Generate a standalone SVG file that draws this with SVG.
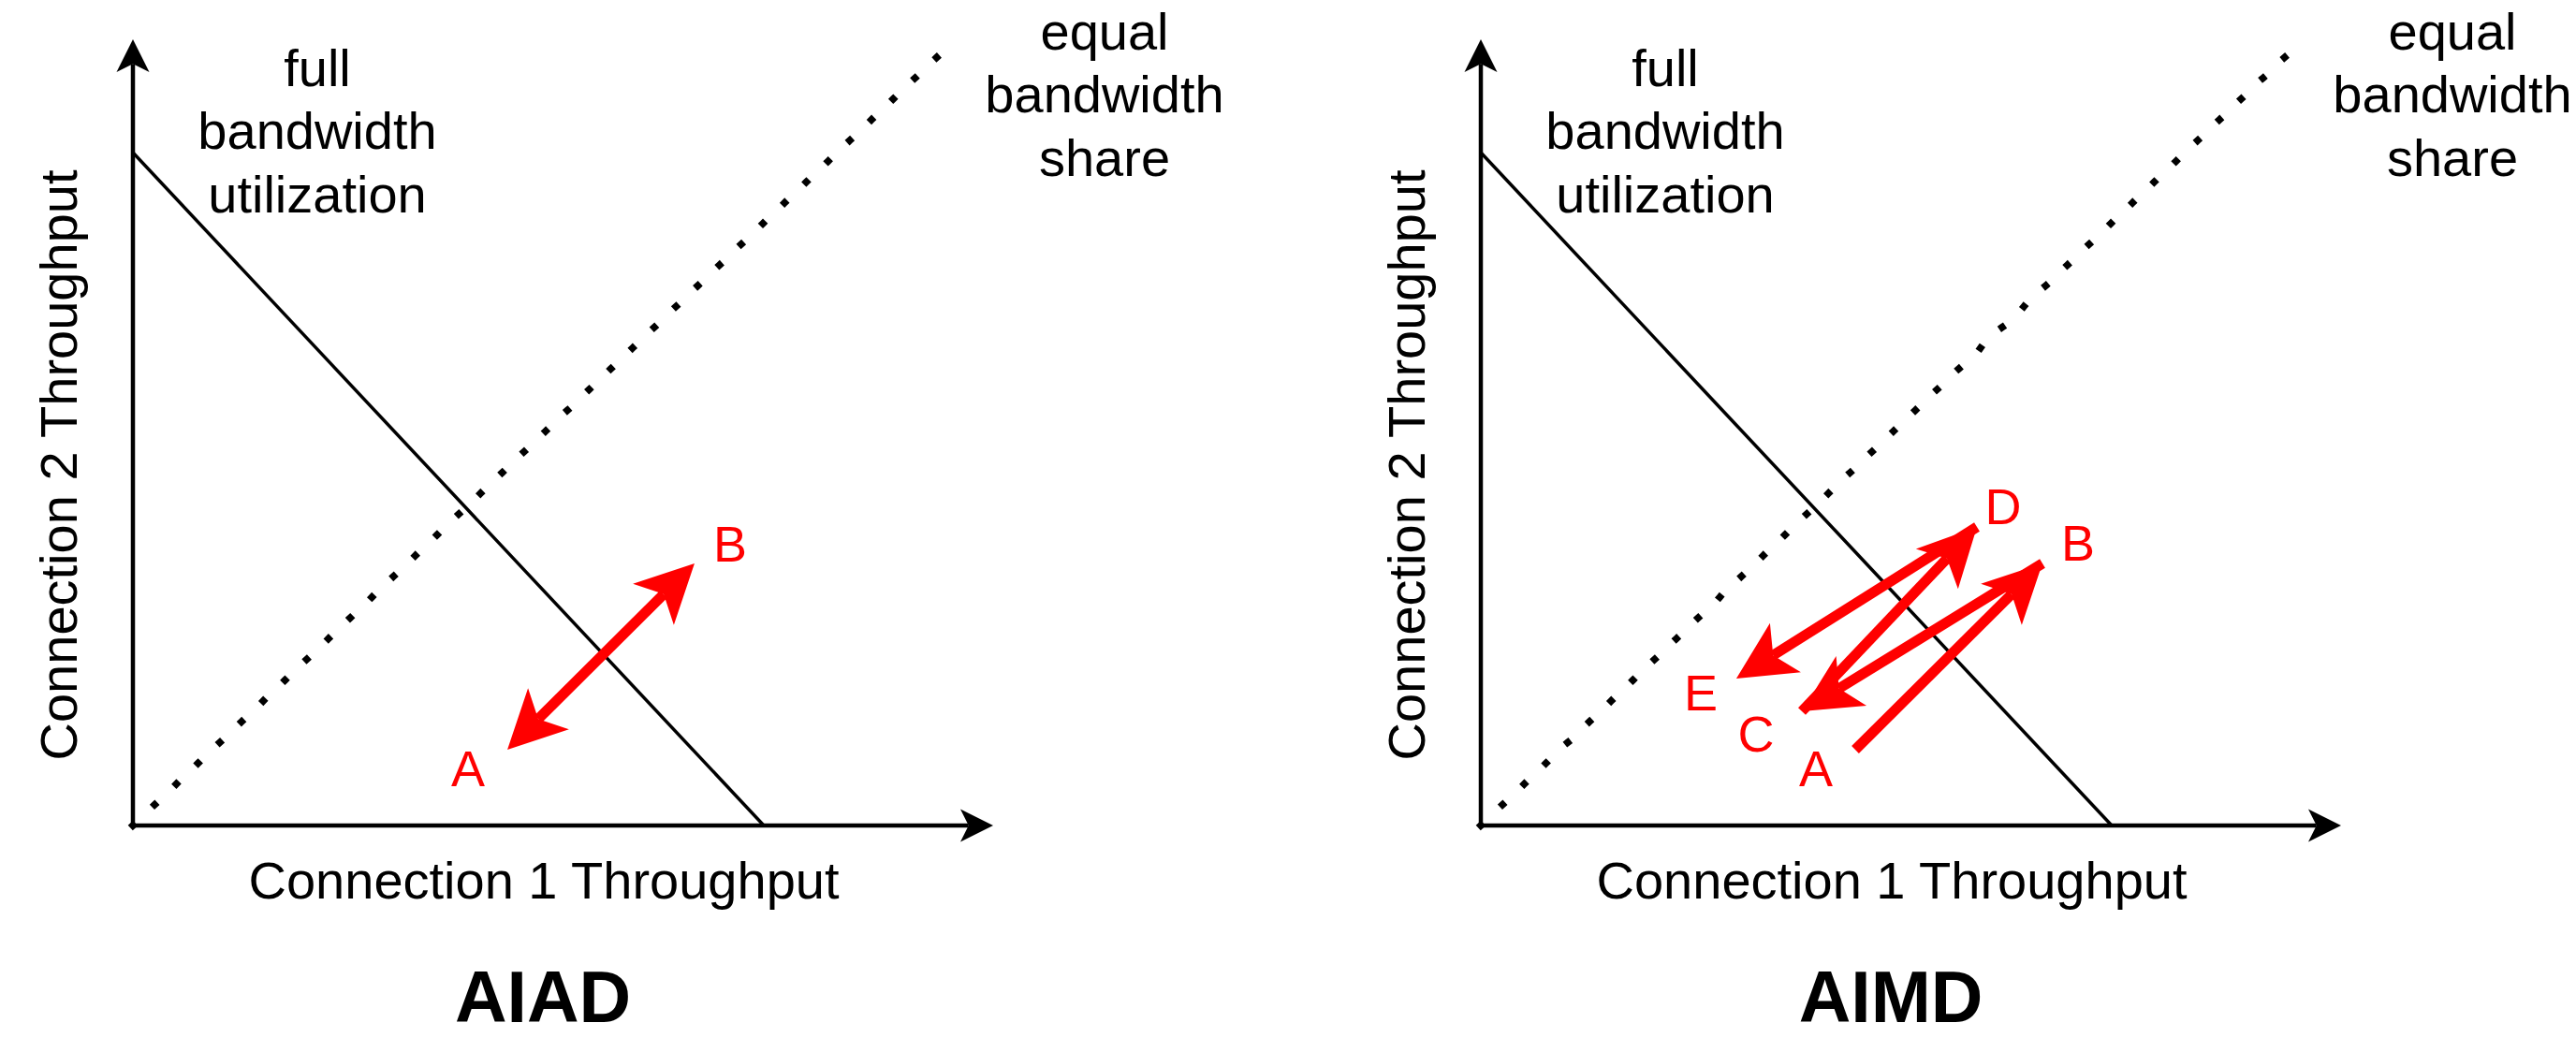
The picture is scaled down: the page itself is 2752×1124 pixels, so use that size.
<svg xmlns="http://www.w3.org/2000/svg" width="2752" height="1124" viewBox="0 0 2752 1124">
<style>
  text { font-family: "Liberation Sans", Arial, sans-serif; }
  .lbl { font-size: 56px; fill: #000; text-anchor: middle; }
  .pt { font-size: 54px; fill: #FF0000; text-anchor: middle; }
  .title { font-size: 77px; font-weight: bold; fill: #000; text-anchor: middle; }
  .axis { stroke: #000; stroke-width: 4.5; fill: none; marker-end: url(#axhead); }
  .full { stroke: #000; stroke-width: 3.5; fill: none; }
  .equal { stroke: #000; stroke-width: 7.5; fill: none; stroke-linecap: square; stroke-dasharray: 0.001 32.1; }
  .red { stroke: #FF0000; stroke-width: 11; fill: none; marker-end: url(#redhead); }
</style>
<defs>
  <marker id="axhead" markerUnits="userSpaceOnUse" orient="auto" refX="0" refY="0" markerWidth="40" markerHeight="40" overflow="visible">
    <path d="M26.25,0 L-8.75,-17.5 L0,0 L-8.75,17.5 Z" fill="#000"/>
  </marker>
  <marker id="redhead" markerUnits="userSpaceOnUse" orient="auto-start-reverse" refX="0" refY="0" markerWidth="80" markerHeight="80" overflow="visible">
    <path d="M46.5,0 L-15.5,-31 L0,0 L-15.5,31 Z" fill="#FF0000"/>
  </marker>
</defs>
<rect width="2752" height="1124" fill="#fff"/>

<g id="aiad">
  <g id="aiad-axes">
    <path class="axis" d="M142,882 V68.25"/>
    <path class="axis" d="M142,882 H1034.75"/>
  </g>
  <path id="aiad-full-line" class="full" d="M142,163 L816,882"/>
  <path id="aiad-equal-line" class="equal" d="M142,882 L1022,41"/>
  <g id="aiad-full-label"><text class="lbl" x="339" y="92">full</text><text class="lbl" x="339" y="159">bandwidth</text><text class="lbl" x="339" y="227">utilization</text></g>
  <g id="aiad-equal-label"><text class="lbl" x="1180" y="53">equal</text><text class="lbl" x="1180" y="120">bandwidth</text><text class="lbl" x="1180" y="188">share</text></g>
  <text id="aiad-ylabel" class="lbl" transform="translate(82,497) rotate(-90)">Connection 2 Throughput</text>
  <text id="aiad-xlabel" class="lbl" x="581" y="960">Connection 1 Throughput</text>
  <text id="aiad-title" class="title" x="580" y="1092">AIAD</text>
  <text id="aiad-A" class="pt" x="500" y="840">A</text>
  <text id="aiad-B" class="pt" x="780" y="600">B</text>
</g>

<g id="aimd">
  <g id="aimd-axes">
    <path class="axis" d="M1582,882 V68.25"/>
    <path class="axis" d="M1582,882 H2474.75"/>
  </g>
  <path id="aimd-full-line" class="full" d="M1582,163 L2256,882"/>
  <path id="aimd-equal-line" class="equal" d="M1582,882 L2462,41"/>
  <g id="aimd-full-label"><text class="lbl" x="1779" y="92">full</text><text class="lbl" x="1779" y="159">bandwidth</text><text class="lbl" x="1779" y="227">utilization</text></g>
  <g id="aimd-equal-label"><text class="lbl" x="2620" y="53">equal</text><text class="lbl" x="2620" y="120">bandwidth</text><text class="lbl" x="2620" y="188">share</text></g>
  <text id="aimd-ylabel" class="lbl" transform="translate(1522,497) rotate(-90)">Connection 2 Throughput</text>
  <text id="aimd-xlabel" class="lbl" x="2021" y="960">Connection 1 Throughput</text>
  <text id="aimd-title" class="title" x="2020" y="1092">AIMD</text>
  <text id="aimd-A" class="pt" x="1940" y="840">A</text>
  <text id="aimd-B" class="pt" x="2220" y="599">B</text>
  <text id="aimd-C" class="pt" x="1876" y="803">C</text>
  <text id="aimd-D" class="pt" x="2140" y="560">D</text>
  <text id="aimd-E" class="pt" x="1817" y="759">E</text>
</g>

<g id="connectors">
  <path id="aiad-A-B" class="red" style="marker-start:url(#redhead)" d="M575,768.2 L709,634.8"/>
  <path id="aimd-A-B" class="red" d="M1982,801 L2149,634.8"/>
  <path id="aimd-B-C" class="red" d="M2182,602 L1964.6,735.6"/>
  <path id="aimd-C-D" class="red" d="M1925,760 L2080,596.7"/>
  <path id="aimd-D-E" class="red" d="M2112,563 L1894.3,700.2"/>
</g>
</svg>
